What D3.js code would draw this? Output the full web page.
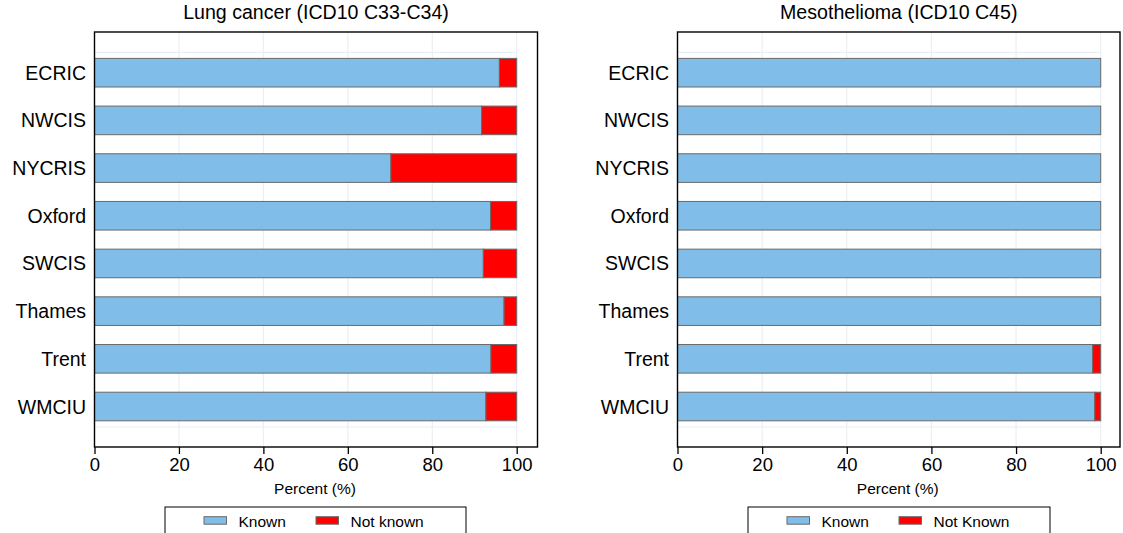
<!DOCTYPE html>
<html>
<head>
<meta charset="utf-8">
<script src="https://cdn.jsdelivr.net/npm/d3@7"></script>
<style>
  body { margin: 0; background: #fff; }
  svg { display: block; font-family: "Liberation Sans", Arial, sans-serif; }
</style>
</head>
<body>
<svg id="chart" width="1123" height="533"></svg>
<script>
const categories = ["ECRIC", "NWCIS", "NYCRIS", "Oxford", "SWCIS", "Thames", "Trent", "WMCIU"];
const lungKnown = [95.9, 91.7, 70.2, 93.8, 92.1, 97.0, 93.9, 92.7];
const mesoKnown = [100, 100, 100, 100, 100, 100, 98.1, 98.6];
const xTicks = [0, 20, 40, 60, 80, 100];
const panelTitles = ["Lung cancer (ICD10 C33-C34)", "Mesothelioma (ICD10 C45)"];
const legendLabels = [["Known", "Not known"], ["Known", "Not Known"]];
const xTitle = "Percent (%)";

const colors = { known: "#80BDE8", notKnown: "#FF0000" };

const svg = d3.select("#chart");

const panels = [
  { title: panelTitles[0], known: lungKnown, legend: legendLabels[0],
    frameL: 94.5, frameR: 537.5, x0: 94.5, x1: 516.7,
    legX: 165, legW: 301 },
  { title: panelTitles[1], known: mesoKnown, legend: legendLabels[1],
    frameL: 677.5, frameR: 1120, x0: 677.5, x1: 1100.7,
    legX: 748, legW: 302 }
];

const frameTop = 32, frameBot = 447;

panels.forEach(p => {
  const g = svg.append("g");
  const x = d3.scaleLinear().domain([0, 100]).range([p.x0, p.x1]);
  const y = d3.scalePoint().domain(categories).range([72.7, 406.5]);
  const barH = 28.6;

  // faint grid
  g.append("g").selectAll("line.v").data(xTicks.filter(t => t > 0)).join("line")
    .attr("x1", d => x(d)).attr("x2", d => x(d))
    .attr("y1", frameTop).attr("y2", frameBot)
    .attr("stroke", "#e9f0f3").attr("stroke-width", 1.2);
  [52.3, 427].forEach(yy => {
    g.append("line").attr("x1", p.frameL).attr("x2", x(100))
      .attr("y1", yy).attr("y2", yy)
      .attr("stroke", "#e9f0f3").attr("stroke-width", 1.2);
  });

  // bars
  const rows = categories.map((c, i) => ({ c, k: p.known[i], n: 100 - p.known[i] }));
  g.append("g").selectAll("rect").data(rows).join("rect")
    .attr("x", d => x(0)).attr("y", d => y(d.c) - barH / 2)
    .attr("width", d => x(d.k) - x(0)).attr("height", barH)
    .attr("fill", colors.known).attr("stroke", "#6a6a6a").attr("stroke-width", 1);
  g.append("g").selectAll("rect").data(rows.filter(d => d.n > 0.001)).join("rect")
    .attr("x", d => x(d.k)).attr("y", d => y(d.c) - barH / 2)
    .attr("width", d => x(100) - x(d.k)).attr("height", barH)
    .attr("fill", colors.notKnown).attr("stroke", "#6a6a6a").attr("stroke-width", 1);

  // frame
  g.append("rect").attr("x", p.frameL).attr("y", frameTop)
    .attr("width", p.frameR - p.frameL).attr("height", frameBot - frameTop)
    .attr("fill", "none").attr("stroke", "#000").attr("stroke-width", 1.4);

  // category labels
  g.append("g").selectAll("text").data(categories).join("text")
    .attr("x", p.frameL - 8.5).attr("y", d => y(d)).attr("dy", "0.36em")
    .attr("text-anchor", "end").attr("font-size", 19.5).attr("fill", "#000")
    .text(d => d);

  // x axis
  const ax = g.append("g").attr("transform", `translate(0,${frameBot})`)
    .call(d3.axisBottom(x).tickValues(xTicks).tickSize(7).tickPadding(4).tickFormat(d3.format("d")));
  ax.select(".domain").remove();
  ax.selectAll(".tick line").attr("stroke", "#000").attr("stroke-width", 1.3);
  ax.selectAll(".tick text").attr("font-size", 18.5).attr("fill", "#000")
    .attr("font-family", "Liberation Sans, Arial, sans-serif");

  // axis title
  g.append("text").attr("x", (p.frameL + p.frameR) / 2 - 1).attr("y", 494)
    .attr("text-anchor", "middle").attr("font-size", 15.5).text(xTitle);

  // panel title
  g.append("text").attr("x", (p.frameL + p.frameR) / 2).attr("y", 19)
    .attr("text-anchor", "middle").attr("font-size", 19.6).text(p.title);

  // legend
  const lg = g.append("g");
  lg.append("rect").attr("x", p.legX).attr("y", 507).attr("width", p.legW).attr("height", 40)
    .attr("fill", "#fff").attr("stroke", "#000").attr("stroke-width", 1);
  const items = [{ label: p.legend[0], col: colors.known }, { label: p.legend[1], col: colors.notKnown }];
  items.forEach((it, i) => {
    const sx = p.legX + 39 + i * 112;
    lg.append("rect").attr("x", sx).attr("y", 516.7).attr("width", 22.5).attr("height", 7.5)
      .attr("fill", it.col).attr("stroke", "#6a6a6a").attr("stroke-width", 1);
    lg.append("text").attr("x", sx + 34.5).attr("y", 526.5).attr("font-size", 15.5).text(it.label);
  });
});
</script>
</body>
</html>
